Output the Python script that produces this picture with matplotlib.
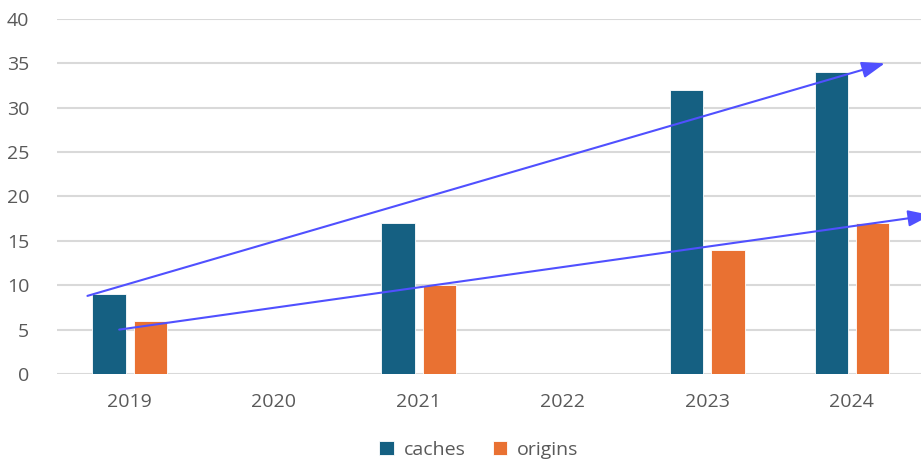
import numpy as np
import matplotlib.pyplot as plt

plt.rcParams['font.family'] = ['Open Sans', 'DejaVu Sans']

# data
years = ['2019', '2020', '2021', '2022', '2023', '2024']
caches = [9, 0, 17, 0, 32, 34]
origins = [6, 0, 10, 0, 14, 17]

# hand-drawn trend arrows: (x start, y start) -> (x end, y end) in data units
trend_caches = [(-0.29, 8.8), (5.23, 35.0)]
trend_origins = [(-0.07, 5.0), (5.55, 17.9)]

fig = plt.figure(figsize=(9.21, 4.69), dpi=100)
ax = fig.add_axes([0.062, 0.2026, 0.941, 0.7569])

x = np.arange(len(years))
w = 0.23
ax.bar(x - 0.14, caches, w, color='#156082', edgecolor='white', linewidth=0.6, label='caches', zorder=2)
ax.bar(x + 0.145, origins, w, color='#E97132', edgecolor='white', linewidth=0.6, label='origins', zorder=2)

for (x0, y0), (x1, y1) in [trend_caches, trend_origins]:
    ax.annotate('', xy=(x1, y1), xytext=(x0, y0), annotation_clip=False,
                arrowprops=dict(arrowstyle='-|>,head_length=1.4,head_width=0.5',
                                color='#5050FF', lw=1.5, shrinkA=0, shrinkB=0),
                zorder=3)

ax.set_xlim(-0.5, 5.5)
ax.set_ylim(0, 40)
ax.set_yticks(range(0, 41, 5))
ax.set_xticks(x)
ax.set_xticklabels(years)
ax.grid(axis='y', color='#D9D9D9', linewidth=1.5, zorder=0)
ax.set_axisbelow(True)
for s in ax.spines.values():
    s.set_visible(False)
ax.tick_params(axis='both', length=0, labelsize=14, colors='#595959')
ax.tick_params(axis='x', pad=14)
ax.tick_params(axis='y', pad=20)

fig.legend(loc='lower center', bbox_to_anchor=(0.52, -0.015), ncol=2, frameon=False,
           fontsize=14, labelcolor='#595959', handlelength=0.75, handleheight=0.75,
           columnspacing=1.4, handletextpad=0.5)

fig.savefig('out.png', dpi=100)
